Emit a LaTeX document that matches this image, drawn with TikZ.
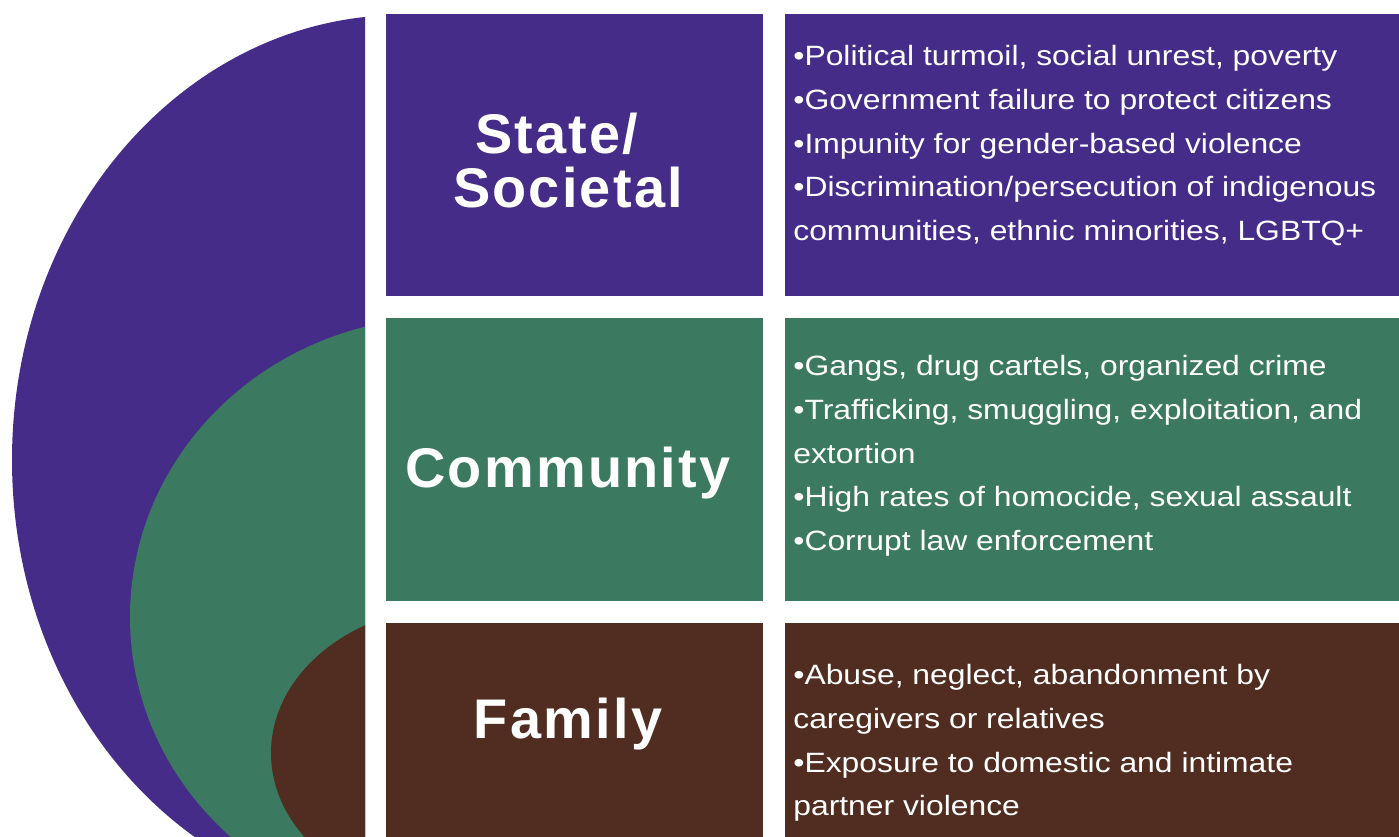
\documentclass[tikz,border=0pt]{standalone}
\usepackage{fontspec}
\setmainfont{Liberation Sans}
\newfontfamily\tierfont[LetterSpace=4]{Liberation Sans}
\newfontfamily\reasonfont[FakeStretch=1.14]{Liberation Sans}
\definecolor{statepurple}{RGB}{69,44,137}
\definecolor{communitygreen}{RGB}{59,121,96}
\definecolor{familybrown}{RGB}{80,45,32}

\begin{document}
\begin{tikzpicture}[x=0.02cm,y=-0.02cm,
  tierbox/.style={inner sep=0pt, minimum width=7.54cm},
  reasonbox/.style={inner sep=0pt, minimum width=12.28cm},
  tierlabel/.style={text=white, align=center, inner sep=0pt,
    font=\tierfont\bfseries\fontsize{31.8}{31.2}\selectfont},
  reasonlist/.style={text=white, align=left, anchor=north west, inner sep=0pt,
    font=\reasonfont\fontsize{15.9}{24.9}\selectfont}]
\useasboundingbox (0,0) rectangle (1399,837);
\fill[white] (0,0) rectangle (1399,837);
% nested rings, cut off left of the boxes
\begin{scope}
\clip (0,0) rectangle (365,837);
\fill[statepurple] (402,460) ellipse [x radius=390, y radius=445];
\fill[communitygreen] (445,617) ellipse [x radius=315, y radius=300];
\fill[familybrown] (461,753) ellipse [x radius=190, y radius=148];
\end{scope}
% level boxes
\node[tierbox, fill=statepurple, minimum height=5.64cm] (statebox) at (574.5,155) {};
\node[tierbox, fill=communitygreen, minimum height=5.66cm] (communitybox) at (574.5,459.5) {};
\node[tierbox, fill=familybrown, minimum height=4.28cm] (familybox) at (574.5,730) {};
\node[reasonbox, fill=statepurple, minimum height=5.64cm] (statereasonbox) at (1092,155) {};
\node[reasonbox, fill=communitygreen, minimum height=5.66cm] (communityreasonbox) at (1092,459.5) {};
\node[reasonbox, fill=familybrown, minimum height=4.28cm] (familyreasonbox) at (1092,730) {};
% level names
\node[tierlabel] (statelabel) at (568,160.5) {State/\kern0.4em\\Societal};
\node[tierlabel, anchor=base] (communitylabel) at (568,487) {Community};
\node[tierlabel, anchor=base] (familylabel) at (568,738) {Family};
% risk factors
\node[reasonlist] (statereasons) at (793,45) {•Political turmoil, social unrest, poverty\\
  •Government failure to protect citizens\\
  •Impunity for gender-based violence\\
  •Discrimination/persecution of indigenous\\
  communities, ethnic minorities, LGBTQ+};
\node[reasonlist] (communityreasons) at (793,355) {•Gangs, drug cartels, organized crime\\
  •Trafficking, smuggling, exploitation, and\\
  extortion\\
  •High rates of homocide, sexual assault\\
  •Corrupt law enforcement};
\node[reasonlist] (familyreasons) at (793,664) {•Abuse, neglect, abandonment by\\
  caregivers or relatives\\
  •Exposure to domestic and intimate\\
  partner violence};
\end{tikzpicture}
\end{document}
